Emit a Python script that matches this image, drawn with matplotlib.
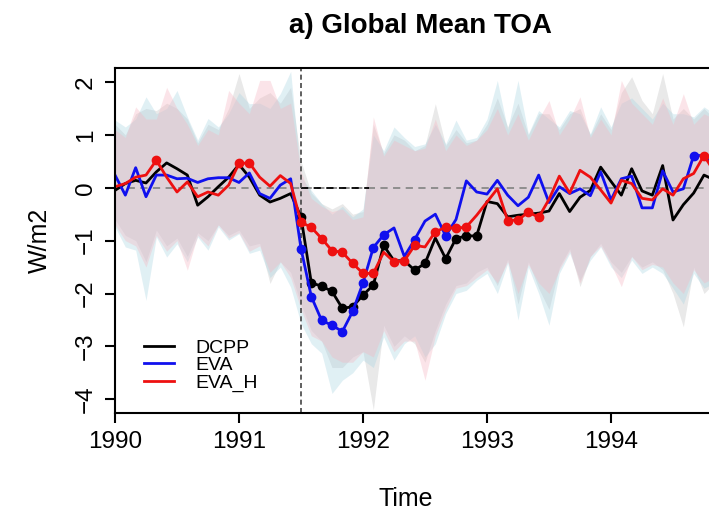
import matplotlib
matplotlib.use('Agg')
import matplotlib.pyplot as plt
import numpy as np

plt.rcParams['font.family'] = ['Liberation Sans', 'DejaVu Sans']

# monthly values from Jan 1990
dcpp = [-0.05, 0.08, 0.14, 0.09, 0.30, 0.47, 0.36, 0.24, -0.33, -0.17, 0.02, 0.20,
        0.44, 0.20, -0.14, -0.27, -0.20, -0.11, -0.55, -1.80, -1.86, -1.96, -2.28, -2.25,
        -2.03, -1.84, -1.09, -1.38, -1.38, -1.56, -1.43, -0.95, -1.34, -0.96, -0.91, -0.91,
        -0.26, -0.30, -0.55, -0.52, -0.50, -0.48, -0.44, -0.11, -0.45, -0.18, -0.05, 0.39,
        0.12, -0.14, 0.36, -0.06, -0.14, 0.42, -0.61, -0.32, -0.10, 0.24, 0.15]
eva = [0.24, -0.14, 0.38, -0.17, 0.24, 0.24, 0.17, 0.18, 0.10, 0.17, 0.19, 0.19,
       0.10, 0.28, -0.11, -0.20, 0.05, 0.17, -1.15, -2.06, -2.51, -2.60, -2.72, -2.34,
       -1.80, -1.13, -0.89, -0.76, -1.30, -0.98, -0.63, -0.50, -0.91, -0.60, 0.13, -0.08,
       -0.12, 0.14, -0.14, -0.34, -0.18, 0.24, -0.28, 0.02, -0.11, -0.02, -0.15, 0.30,
       -0.23, 0.17, 0.22, -0.38, -0.38, 0.32, -0.08, -0.02, 0.61, 0.61, 0.40]
eva_h = [0.02, 0.08, 0.20, 0.24, 0.52, 0.20, -0.08, 0.11, -0.17, -0.08, -0.14, 0.05,
         0.46, 0.47, 0.20, 0.03, 0.23, 0.08, -0.65, -0.75, -0.96, -1.19, -1.22, -1.43,
         -1.62, -1.62, -1.22, -1.40, -1.38, -1.09, -1.12, -0.83, -0.75, -0.77, -0.74, -0.52,
         -0.27, -0.02, -0.62, -0.61, -0.46, -0.56, -0.22, 0.22, -0.10, 0.33, 0.20, -0.04,
         -0.29, 0.14, 0.08, -0.20, -0.23, -0.02, -0.14, 0.17, 0.27, 0.61, 0.30]

# months flagged with dots
dcpp_dots = [18, 19, 20, 21, 22, 23, 24, 25, 26, 29, 30, 32, 33, 34, 35]
eva_dots = [18, 19, 20, 21, 22, 23, 24, 25, 26, 29, 32, 56]
eva_h_dots = [4, 12, 13, 18, 19, 20, 21, 22, 23, 24, 25, 27, 28, 29, 31, 32, 33, 34,
              38, 39, 40, 41, 57]

# ensemble spread
dcpp_hi = [1.20, 1.00, 1.40, 1.50, 1.46, 1.60, 1.50, 1.30, 0.85, 1.20, 1.10, 1.50,
           2.16, 1.50, 1.70, 1.80, 1.60, 1.90, 0.50, -0.10, -0.30, -0.40, -0.30, -0.50,
           -0.45, 1.20, 0.65, 1.00, 0.90, 0.70, 0.80, 1.59, 0.80, 1.10, 0.85, 0.90,
           1.20, 1.70, 1.15, 1.60, 1.00, 1.40, 1.40, 1.10, 1.40, 1.50, 1.00, 1.40,
           1.10, 1.80, 2.10, 1.65, 1.40, 2.16, 1.30, 1.50, 1.30, 1.50, 1.30]
dcpp_lo = [-0.60, -0.90, -1.00, -1.40, -0.80, -1.10, -0.95, -1.30, -0.85, -1.00, -0.70, -0.90,
           -0.80, -1.10, -1.05, -1.81, -1.40, -1.60, -2.20, -2.70, -2.90, -3.40, -3.40, -3.20,
           -3.10, -4.20, -2.60, -3.00, -2.80, -2.95, -3.30, -2.70, -2.20, -1.85, -1.80, -1.60,
           -1.50, -1.85, -1.35, -2.20, -1.40, -1.90, -2.30, -1.50, -1.15, -1.87, -1.30, -1.05,
           -1.40, -1.60, -1.30, -1.50, -1.40, -1.55, -2.00, -2.63, -1.50, -2.00, -1.80]
eva_hi = [1.28, 1.15, 1.30, 1.72, 1.40, 1.50, 1.84, 1.34, 0.90, 1.31, 1.15, 1.40,
          1.80, 1.59, 1.60, 1.50, 1.78, 2.20, 0.20, -0.05, -0.30, -0.50, -0.35, -0.55,
          -0.40, 1.00, 0.70, 1.15, 0.95, 0.78, 0.83, 1.20, 0.83, 1.28, 0.90, 0.95,
          1.30, 2.03, 1.10, 2.03, 1.02, 1.46, 1.30, 1.15, 1.46, 1.40, 1.02, 1.53,
          1.15, 1.60, 1.70, 1.50, 1.30, 1.60, 1.40, 1.40, 1.34, 1.53, 1.40]
eva_lo = [-0.74, -1.12, -1.18, -2.13, -0.93, -1.31, -1.06, -1.40, -0.93, -1.18, -0.74, -0.99,
          -0.87, -1.24, -1.18, -1.70, -1.50, -1.88, -2.57, -2.95, -3.13, -3.89, -3.64, -3.50,
          -3.26, -3.40, -2.82, -3.26, -2.95, -2.80, -3.20, -2.95, -2.38, -2.00, -1.94, -1.75,
          -1.62, -2.00, -1.43, -2.50, -1.50, -2.00, -2.60, -1.62, -1.24, -1.75, -1.37, -1.12,
          -1.50, -1.70, -1.37, -1.62, -1.50, -1.62, -1.90, -2.20, -1.62, -1.90, -1.80]
eva_h_hi = [1.10, 0.95, 1.53, 1.30, 1.30, 1.90, 1.50, 1.20, 0.80, 1.10, 1.00, 1.84,
            1.60, 1.40, 2.03, 2.03, 1.50, 1.60, 0.30, -0.20, -0.35, -0.45, -0.40, -0.60,
            -0.55, 1.34, 0.60, 0.90, 0.80, 0.70, 0.75, 1.30, 0.70, 1.00, 0.80, 0.90,
            1.10, 1.50, 1.00, 1.40, 0.90, 1.30, 1.65, 1.00, 1.30, 1.72, 0.95, 1.30,
            1.00, 2.03, 1.60, 1.40, 1.20, 1.70, 1.20, 1.78, 1.20, 1.40, 1.30]
eva_h_lo = [-0.70, -1.00, -1.10, -1.50, -0.90, -1.20, -1.00, -1.56, -0.90, -1.10, -0.70, -0.95,
            -0.85, -1.20, -1.10, -1.60, -1.40, -1.70, -2.30, -2.80, -2.90, -3.20, -3.30, -3.30,
            -3.10, -3.20, -2.70, -3.10, -2.90, -2.90, -3.64, -2.80, -2.30, -1.90, -1.85, -1.70,
            -1.55, -1.80, -1.40, -2.00, -1.45, -1.80, -2.00, -1.55, -1.20, -1.80, -1.30, -1.10,
            -1.45, -1.87, -1.30, -1.55, -1.45, -1.50, -1.80, -2.00, -1.55, -1.80, -1.70]

t = 1990 + np.arange(len(dcpp)) / 12.0

fig = plt.figure(figsize=(7.09, 5.12), dpi=100)
ax = fig.add_axes([115 / 709, 99 / 512, 1 - 115 / 709, 345 / 512])

ax.fill_between(t, dcpp_lo, dcpp_hi, color='#b0b0b0', alpha=0.28, lw=0)
ax.fill_between(t, eva_lo, eva_hi, color='#a8d4e2', alpha=0.35, lw=0)
ax.fill_between(t, eva_h_lo, eva_h_hi, color='#f6b4c0', alpha=0.35, lw=0)

ax.axhline(0, color='#888888', ls=(0, (4, 3)), lw=1.3)
ax.plot([1991.5, 1992.05], [0, 0], color='black', ls=(0, (4, 3)), lw=1.3)
ax.axvline(1991.5, color='#444444', ls=(0, (3, 2)), lw=1.2)

for y, dots, c, lab in [(dcpp, dcpp_dots, 'black', 'DCPP'),
                        (eva, eva_dots, '#1010ee', 'EVA'),
                        (eva_h, eva_h_dots, '#ee1010', 'EVA_H')]:
    y = np.array(y)
    ax.plot(t, y, color=c, lw=2, label=lab)
    ax.plot(t[dots], y[dots], 'o', color=c, ms=6)

ax.set_xlim(1990, 1990 + (709 - 115) / 124)
ax.set_ylim(-4.26, 2.265)
ax.set_xticks([1990, 1991, 1992, 1993, 1994])
ax.set_yticks([-4, -3, -2, -1, 0, 1, 2])
ax.tick_params(labelsize=17.5, length=7, width=1.5, pad=6)
for lbl in ax.get_yticklabels():
    lbl.set_rotation(90)
    lbl.set_va('center')
ax.spines['right'].set_visible(False)
for s in ['left', 'bottom', 'top']:
    ax.spines[s].set_linewidth(1.5)

ax.legend(loc='lower left', bbox_to_anchor=(0.02, 0.01), frameon=False, fontsize=14,
          handlelength=1.5, labelspacing=0.0, handletextpad=1.1)

fig.text(420 / 709, 1 - 33 / 512, 'a) Global Mean TOA', ha='center', va='baseline',
         fontsize=20, fontweight='bold')
fig.text(406 / 709, 1 - 506 / 512, 'Time', ha='center', va='baseline', fontsize=18)
fig.text(40 / 709, 1 - 240 / 512, 'W/m2', ha='center', va='center', rotation=90, fontsize=18)

fig.savefig('out.png', dpi=100)
